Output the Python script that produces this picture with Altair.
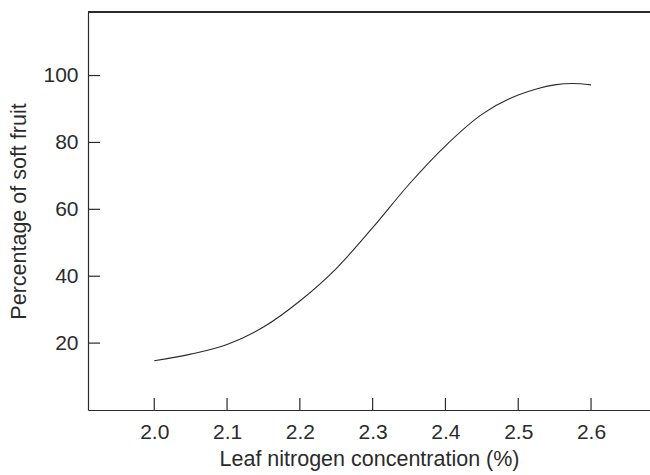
import altair as alt
import pandas as pd

# Leaf nitrogen concentration (%) and the matching percentage of soft fruit
nitrogen = [2.0, 2.05, 2.1, 2.15, 2.2, 2.25, 2.3, 2.35, 2.4, 2.45, 2.5, 2.525, 2.55, 2.575, 2.6]
soft_pct = [14.7, 16.7, 19.6, 24.8, 32.6, 42.3, 54.5, 67.5, 79.0, 88.4, 94.2, 96.0, 97.2, 97.6, 97.2]

# Axis tick positions
x_ticks = [2.0, 2.1, 2.2, 2.3, 2.4, 2.5, 2.6]
y_ticks = [20, 40, 60, 80, 100]

X_DOMAIN = [1.909, 2.681]
Y_DOMAIN = [0, 119]
W, H = 562, 398
INK = "#2b2b2b"
FONT = "Liberation Sans"
TICK_LEN = 12

curve_df = pd.DataFrame({"n": nitrogen, "pct": soft_pct})
xt_df = pd.DataFrame({"n": x_ticks})
yt_df = pd.DataFrame({"pct": y_ticks})

xscale = alt.Scale(domain=X_DOMAIN, nice=False, zero=False)
yscale = alt.Scale(domain=Y_DOMAIN, nice=False, zero=False)

curve = alt.Chart(curve_df).mark_line(
    interpolate="monotone", color=INK, strokeWidth=1.1
).encode(
    x=alt.X("n:Q", scale=xscale, axis=alt.Axis(
        values=x_ticks, format=".1f", title="Leaf nitrogen concentration (%)",
        ticks=False, grid=False, domainColor=INK, domainWidth=1.2,
        labelFont=FONT, labelFontSize=21, labelColor=INK, labelPadding=11,
        titleFont=FONT, titleFontSize=21.5, titleFontWeight="normal",
        titleColor=INK, titlePadding=6,
    )),
    y=alt.Y("pct:Q", scale=yscale, axis=alt.Axis(
        values=y_ticks, title="Percentage of soft fruit",
        ticks=False, grid=False, domainColor=INK, domainWidth=1.2,
        labelFont=FONT, labelFontSize=21, labelColor=INK, labelPadding=10,
        titleFont=FONT, titleFontSize=21.5, titleFontWeight="normal",
        titleColor=INK, titlePadding=12,
    )),
)

# Inward-pointing tick marks
x_tick_marks = alt.Chart(xt_df).mark_rule(color=INK, strokeWidth=1.2).encode(
    x=alt.X("n:Q", scale=xscale),
    y=alt.value(H),
    y2=alt.value(H - TICK_LEN),
)
y_tick_marks = alt.Chart(yt_df).mark_rule(color=INK, strokeWidth=1.2).encode(
    y=alt.Y("pct:Q", scale=yscale),
    x=alt.value(0),
    x2=alt.value(TICK_LEN),
)

# Top frame line
top_line = alt.Chart(curve_df).mark_rule(color=INK, strokeWidth=1.2).encode(
    x=alt.value(0), x2=alt.value(W), y=alt.value(0)
)

chart = alt.layer(curve, x_tick_marks, y_tick_marks, top_line).properties(
    width=W,
    height=H,
    autosize=alt.AutoSizeParams(type="none"),
    padding={"left": 88, "top": 12, "right": 0, "bottom": 65},
    background="white",
).configure_view(stroke=None)

chart.save("out.html", embed_options={"renderer": "svg", "actions": False})
